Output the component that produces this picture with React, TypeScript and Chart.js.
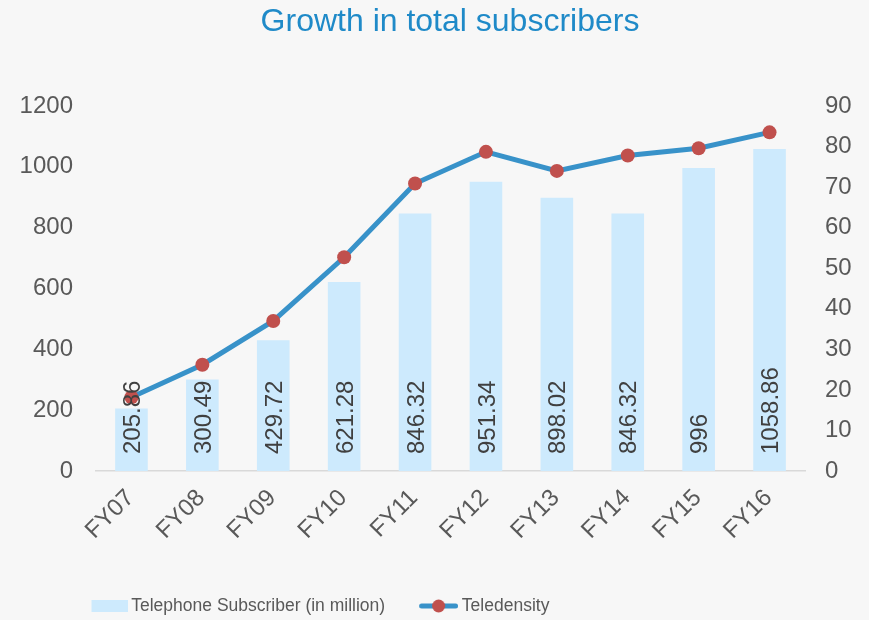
import React, { useEffect, useRef } from 'react';
import { Chart, registerables } from 'chart.js';

Chart.register(...registerables);

const categories = ['FY07', 'FY08', 'FY09', 'FY10', 'FY11', 'FY12', 'FY13', 'FY14', 'FY15', 'FY16'];
const subscribers = [205.86, 300.49, 429.72, 621.28, 846.32, 951.34, 898.02, 846.32, 996, 1058.86];
const teledensity = [18.2, 26.2, 37.0, 52.7, 70.9, 78.7, 74.0, 77.8, 79.6, 83.5];
const leftAxis = { min: 0, max: 1200, step: 200 };
const rightAxis = { min: 0, max: 90, step: 10 };
const seriesNames = ['Telephone Subscriber (in million)', 'Teledensity'];
const titleText = 'Growth in total subscribers';

const W = 869;
const H = 620;
const BG = '#f7f7f7';
const BAR_COLOR = '#cdeafd';
const LINE_COLOR = '#3892c9';
const POINT_COLOR = '#c0504d';
const TEXT = '#595959';
const LABEL_TEXT = '#404040';
const TITLE_COLOR = '#1f8ac8';
const FONT = "'Liberation Sans', Arial, sans-serif";

const PLOT_LEFT = 96;
const PLOT_RIGHT = 805;
const PLOT_TOP = 106;
const PLOT_BOTTOM = 471;

const TITLE_FS = 32;
const TITLE_PAD_TOP = 3;
const TITLE_CENTER_X = 450;

const LEG_FS = 17.5;
const LEG_PSW = 38;
const LEG_GAP = 4;
const LEG_PAD = 30;
const LEGEND_X = 84.5;
const LEGEND_Y = 606;

const barLabels = {
  id: 'barLabels',
  afterDatasetsDraw(chart: any) {
    const meta = chart.getDatasetMeta(0);
    const ctx = chart.ctx;
    const base = chart.scales.y.getPixelForValue(0);
    ctx.save();
    ctx.font = `24px ${FONT}`;
    ctx.fillStyle = LABEL_TEXT;
    ctx.textAlign = 'left';
    ctx.textBaseline = 'alphabetic';
    meta.data.forEach((bar: any, i: number) => {
      ctx.save();
      ctx.translate(bar.x, base - 17);
      ctx.rotate(-Math.PI / 2);
      ctx.fillText(String(subscribers[i]), 0, 8.6);
      ctx.restore();
    });
    ctx.restore();
  },
};

const background = {
  id: 'bg',
  beforeDraw(chart: any) {
    const ctx = chart.ctx;
    ctx.save();
    ctx.fillStyle = BG;
    ctx.fillRect(0, 0, chart.width, chart.height);
    ctx.restore();
  },
};

const boxShift = {
  id: 'boxShift',
  afterLayout(chart: any) {
    const lg = chart.legend;
    if (lg) {
      const p = lg.options.labels.padding;
      const dx = LEGEND_X - (lg.left + p);
      const dy = LEGEND_Y - (lg.top + p + LEG_FS / 2);
      lg.left += dx;
      lg.right += dx;
      lg.top += dy;
      lg.bottom += dy;
    }
    const tb = chart.titleBlock;
    if (tb) {
      const dx = TITLE_CENTER_X - (tb.left + tb.right) / 2;
      tb.left += dx;
      tb.right += dx;
    }
  },
};

export default function App() {
  const ref = useRef<HTMLCanvasElement>(null);

  useEffect(() => {
    document.body.style.margin = '0';
    document.body.style.background = BG;

    const sw = Math.round(2 * (LEG_PSW / 2 + LEG_FS / 2 - LEG_GAP));
    const barSw = document.createElement('canvas');
    barSw.width = sw;
    barSw.height = 12;
    const c1 = barSw.getContext('2d')!;
    c1.fillStyle = BAR_COLOR;
    c1.fillRect(sw - 36, 0, 36, 12);

    const lineSw = document.createElement('canvas');
    lineSw.width = sw;
    lineSw.height = 14;
    const c2 = lineSw.getContext('2d')!;
    c2.strokeStyle = LINE_COLOR;
    c2.lineWidth = 5;
    c2.lineCap = 'round';
    c2.beginPath();
    c2.moveTo(sw - 39 + 2.5, 7);
    c2.lineTo(sw - 2.5, 7);
    c2.stroke();
    c2.fillStyle = POINT_COLOR;
    c2.beginPath();
    c2.arc(sw - 19.5, 7, 6.5, 0, Math.PI * 2);
    c2.fill();

    const tickFmt = (v: any) => String(v);

    const chart = new Chart(ref.current!, {
      type: 'bar',
      data: {
        labels: categories,
        datasets: [
          {
            type: 'bar',
            label: seriesNames[0],
            data: subscribers,
            yAxisID: 'y',
            backgroundColor: BAR_COLOR,
            barPercentage: 0.46,
            categoryPercentage: 1,
            order: 1,
          } as any,
          {
            type: 'line',
            label: seriesNames[1],
            data: teledensity,
            yAxisID: 'y1',
            borderColor: LINE_COLOR,
            borderWidth: 5,
            pointRadius: 7,
            pointBackgroundColor: POINT_COLOR,
            pointBorderColor: POINT_COLOR,
            pointBorderWidth: 0,
            tension: 0,
            order: 0,
          } as any,
        ],
      },
      options: {
        animation: false,
        responsive: true,
        maintainAspectRatio: false,
        layout: { padding: 0 },
        plugins: {
          tooltip: { enabled: false },
          title: {
            display: true,
            text: titleText,
            color: TITLE_COLOR,
            font: { family: FONT, size: TITLE_FS, weight: 'normal' as any, lineHeight: 1.2 },
            padding: { top: TITLE_PAD_TOP, bottom: PLOT_TOP - TITLE_PAD_TOP - TITLE_FS * 1.2 },
          },
          legend: {
            display: true,
            position: 'bottom',
            align: 'start',
            labels: {
              usePointStyle: true,
              pointStyleWidth: LEG_PSW,
              padding: LEG_PAD,
              color: TEXT,
              font: { family: FONT, size: LEG_FS },
              generateLabels: () => [
                {
                  text: seriesNames[0],
                  pointStyle: barSw as any,
                  fillStyle: BAR_COLOR,
                  strokeStyle: BAR_COLOR,
                  lineWidth: 0,
                  hidden: false,
                  datasetIndex: 0,
                  fontColor: TEXT,
                },
                {
                  text: seriesNames[1],
                  pointStyle: lineSw as any,
                  fillStyle: LINE_COLOR,
                  strokeStyle: LINE_COLOR,
                  lineWidth: 0,
                  hidden: false,
                  datasetIndex: 1,
                  fontColor: TEXT,
                },
              ],
            },
          },
        },
        scales: {
          x: {
            grid: { display: false, drawTicks: false },
            border: { display: true, color: '#d9d9d9', width: 1.5 },
            ticks: {
              color: TEXT,
              font: { family: FONT, size: 24 },
              minRotation: 45,
              maxRotation: 45,
              autoSkip: false,
              padding: 13,
              labelOffset: -1,
            },
            afterFit(scale: any) {
              const lh = scale.chart.legend ? scale.chart.legend.height : 0;
              scale.height = H - PLOT_BOTTOM - lh;
            },
          },
          y: {
            position: 'left',
            min: leftAxis.min,
            max: leftAxis.max,
            grid: { display: false, drawTicks: false },
            border: { display: false },
            ticks: {
              stepSize: leftAxis.step,
              color: TEXT,
              font: { family: FONT, size: 24 },
              padding: 23,
              callback: tickFmt,
            },
            afterFit(scale: any) {
              scale.width = PLOT_LEFT;
            },
          },
          y1: {
            position: 'right',
            min: rightAxis.min,
            max: rightAxis.max,
            grid: { display: false, drawTicks: false },
            border: { display: false },
            ticks: {
              stepSize: rightAxis.step,
              color: TEXT,
              font: { family: FONT, size: 24 },
              padding: 20,
              callback: tickFmt,
            },
            afterFit(scale: any) {
              scale.width = W - PLOT_RIGHT;
            },
          },
        },
      },
      plugins: [background, barLabels, boxShift],
    });

    return () => chart.destroy();
  }, []);

  return (
    <div style={{ width: W, height: H, position: 'relative', background: BG }}>
      <canvas ref={ref} />
    </div>
  );
}
